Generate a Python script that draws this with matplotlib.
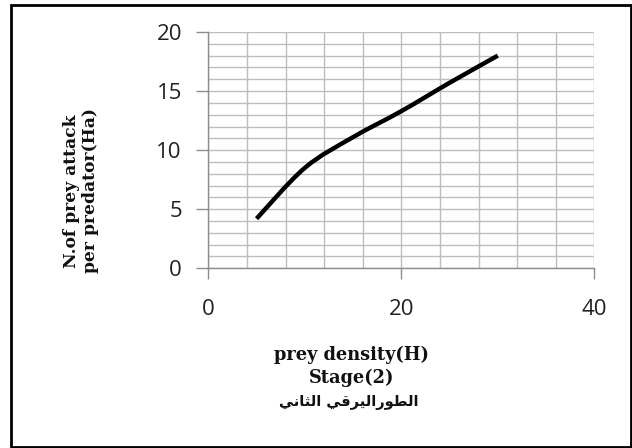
import matplotlib
matplotlib.use("Agg")
import matplotlib.pyplot as plt
from matplotlib.path import Path
from matplotlib.patches import PathPatch, Rectangle
import numpy as np

# prey density (H) vs number of prey attacked per predator (Ha), stage 2
density = [5, 10, 15, 20, 25, 30]
attacks = [4.2, 8.5, 11.1, 13.3, 15.7, 18.0]

x_ticks = [0, 20, 40]
y_ticks = [0, 5, 10, 15, 20]

# second larval stage, written in presentation forms (visual order)
stage_ar = ("\uFEF2\uFEE7\uFE8E\uFE9C\uFEDF\uFE8D" + " " +
            "\uFEF2\uFED7\uFEAE\uFEF4\uFEDF\uFE8D\uFEAD\uFEEE\uFEC4\uFEDF\uFE8D")


def smooth_path(xs, ys):
    # cubic bezier through every point, like a spreadsheet "smoothed line"
    pts = np.column_stack([xs, ys]).astype(float)
    verts = [pts[0]]
    codes = [Path.MOVETO]
    n = len(pts)
    for i in range(n - 1):
        p0 = pts[i - 1] if i > 0 else pts[i]
        p1 = pts[i]
        p2 = pts[i + 1]
        p3 = pts[i + 2] if i + 2 < n else pts[i + 1]
        c1 = p1 + (p2 - p0) / 6.0
        c2 = p2 - (p3 - p1) / 6.0
        verts += [c1, c2, p2]
        codes += [Path.CURVE4] * 3
    return Path(verts, codes)


fig = plt.figure(figsize=(6.32, 4.48), dpi=100)
ax = fig.add_axes([0.3296, 0.4011, 0.6108, 0.5275])

ax.set_xlim(0, 40)
ax.set_ylim(0, 20)
ax.set_xticks(x_ticks)
ax.set_xticks(np.arange(0, 41, 4), minor=True)
ax.set_yticks(y_ticks)
ax.set_yticks(np.arange(0, 21, 1), minor=True)

grid_col = "#bdbdbd"
ax.grid(True, which="both", color=grid_col, linewidth=1.0)
ax.set_axisbelow(True)

for s in ["top", "right"]:
    ax.spines[s].set_visible(False)
for s in ["left", "bottom"]:
    ax.spines[s].set_color("#8c8c8c")
    ax.spines[s].set_linewidth(1.0)

ax.tick_params(axis="x", which="major", length=8, width=1, color="#8c8c8c",
               pad=14, labelsize=16)
ax.tick_params(axis="y", which="major", length=9, width=1, color="#8c8c8c",
               pad=10, labelsize=16)
ax.tick_params(which="minor", length=0)
for lab in ax.get_xticklabels() + ax.get_yticklabels():
    lab.set_fontfamily("Open Sans")
    lab.set_color("#222222")

patch = PathPatch(smooth_path(density, attacks), facecolor="none",
                  edgecolor="black", linewidth=3.2, capstyle="butt",
                  joinstyle="round", zorder=3)
ax.add_patch(patch)

fig.text(0.128, 0.574, "N.of prey attack\nper predator(Ha)", rotation=90,
         ha="center", va="center", fontsize=12.3, fontweight="bold",
         family="DejaVu Serif", linespacing=1.15, color="#111111")

fig.text(0.556, 0.207, "prey density(H)", ha="center", va="center",
         fontsize=12.8, fontweight="bold", family="DejaVu Serif",
         color="#111111")
fig.text(0.556, 0.156, "Stage(2)", ha="center", va="center",
         fontsize=12.8, fontweight="bold", family="DejaVu Serif",
         color="#111111")
fig.text(0.552, 0.102, stage_ar, ha="center", va="center",
         fontsize=10.5, fontweight="bold", family="DejaVu Sans",
         color="#111111")

fig.patches.append(Rectangle((11 / 632, 1 / 448), 619.5 / 632, 442 / 448,
                             transform=fig.transFigure, fill=False,
                             edgecolor="black", linewidth=2.0))

fig.savefig("out.png", dpi=100)
